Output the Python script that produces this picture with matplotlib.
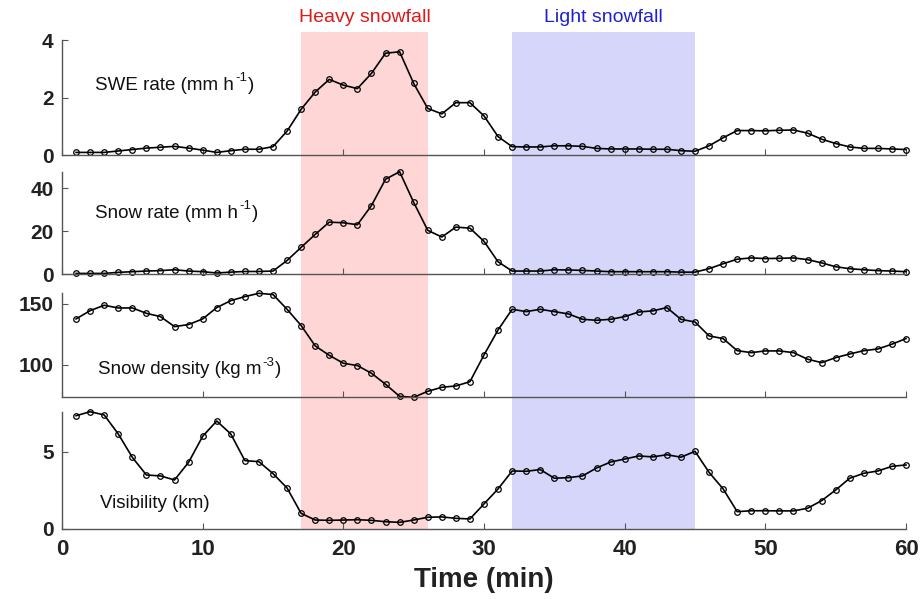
import matplotlib
matplotlib.use("Agg")
import matplotlib.pyplot as plt
import numpy as np

plt.rcParams['font.family'] = ['Liberation Sans', 'DejaVu Sans']

minutes = list(range(1, 61))

swe_rate = [0.09, 0.09, 0.09, 0.14, 0.19, 0.24, 0.27, 0.30, 0.24, 0.17,
            0.09, 0.15, 0.20, 0.20, 0.29, 0.83, 1.59, 2.19, 2.63, 2.43,
            2.31, 2.84, 3.54, 3.59, 2.49, 1.62, 1.43, 1.82, 1.82, 1.36,
            0.64, 0.29, 0.28, 0.28, 0.32, 0.32, 0.30, 0.23, 0.21, 0.21,
            0.21, 0.20, 0.20, 0.15, 0.13, 0.32, 0.60, 0.85, 0.85, 0.84,
            0.86, 0.87, 0.76, 0.55, 0.40, 0.28, 0.23, 0.23, 0.21, 0.19]

snow_rate = [0.5, 0.5, 0.5, 1.0, 1.3, 1.6, 1.8, 2.2, 1.6, 1.3,
             0.7, 1.1, 1.4, 1.4, 1.6, 6.5, 12.6, 18.6, 24.3, 24.0,
             23.1, 32.0, 44.2, 47.7, 33.5, 20.5, 17.4, 22.0, 21.5, 15.4,
             5.9, 1.6, 1.6, 1.6, 2.2, 2.1, 1.9, 1.6, 1.3, 1.3,
             1.3, 1.3, 1.3, 1.1, 1.1, 2.7, 5.0, 7.1, 7.7, 7.4,
             7.5, 7.7, 6.9, 5.4, 3.6, 2.7, 2.2, 1.8, 1.6, 1.3]

snow_density = [137.7, 144.5, 148.9, 146.7, 146.7, 142.3, 139.6, 131.4, 133.1, 137.7,
                147.0, 152.7, 156.0, 158.7, 157.7, 145.6, 132.3, 115.6, 107.9, 101.4,
                99.5, 93.2, 84.2, 74.3, 73.5, 78.4, 81.7, 82.8, 86.3, 108.2,
                128.7, 145.6, 143.7, 145.6, 143.7, 141.8, 137.4, 136.6, 137.4, 139.6,
                143.4, 144.3, 147.0, 137.4, 135.2, 123.8, 121.6, 111.7, 110.1, 111.5,
                111.5, 110.1, 104.7, 101.9, 106.0, 109.0, 111.7, 113.1, 117.0, 121.6]

visibility = [7.32, 7.58, 7.37, 6.14, 4.63, 3.49, 3.43, 3.17, 4.31, 5.99,
              6.98, 6.14, 4.42, 4.35, 3.58, 2.65, 1.01, 0.58, 0.56, 0.58,
              0.60, 0.56, 0.47, 0.43, 0.58, 0.76, 0.78, 0.69, 0.65, 1.62,
              2.59, 3.75, 3.73, 3.84, 3.28, 3.32, 3.43, 3.94, 4.33, 4.52,
              4.72, 4.66, 4.80, 4.64, 5.02, 3.66, 2.59, 1.12, 1.18, 1.18,
              1.17, 1.17, 1.34, 1.83, 2.52, 3.28, 3.60, 3.75, 4.05, 4.14]

heavy_period = (17, 26)
light_period = (32, 45)
x_ticks = [0, 10, 20, 30, 40, 50, 60]

# (text before superscript, superscript, closing text)
panel_labels = [("SWE rate (mm h", "-1", ")"),
                ("Snow rate (mm h", "-1", ")"),
                ("Snow density (kg m", "-3", ")"),
                ("Visibility (km)", "", "")]

W, H = 921, 599
fig = plt.figure(figsize=(W / 100, H / 100), dpi=100)

left = 62 / W
width = (906 - 62) / W

def fr(top_px, bot_px):
    return [left, 1 - bot_px / H, width, (bot_px - top_px) / H]

# background shading axes
bg = fig.add_axes(fr(32, 529))
bg.set_xlim(0, 60)
bg.set_ylim(0, 1)
bg.axvspan(*heavy_period, color='#FFD6D6', lw=0)
bg.axvspan(*light_period, color='#D6D6FA', lw=0)
bg.axis('off')

fig.text((62 + 14.07 * 21.5) / W, 1 - 17 / H, "Heavy snowfall", color='#E01818',
         fontsize=14, ha='center', va='center')
fig.text((62 + 14.07 * 38.5) / W, 1 - 17 / H, "Light snowfall", color='#2020D0',
         fontsize=14, ha='center', va='center')

panel_px = [(40, 155), (171.7, 274.5), (293.3, 397.3), (411.7, 529)]
series = [swe_rate, snow_rate, snow_density, visibility]
ylims = [(0, 4), (0, max(snow_rate)), (min(snow_density), max(snow_density)), (0, max(visibility))]
yticks = [[0, 2, 4], [0, 20, 40], [100, 150], [0, 5]]
label_pos = [(95, 85), (95, 213), (98, 370), (100, 503)]

fig.canvas.draw()
renderer = fig.canvas.get_renderer()

spine_col = '#555555'
for i in range(4):
    ax = fig.add_axes(fr(*panel_px[i]))
    ax.patch.set_alpha(0)
    ax.plot(minutes, series[i], '-', color='black', lw=1.2,
            marker='o', ms=4, mfc='none', mec='black', mew=0.9, clip_on=False)
    ax.set_xlim(0, 60)
    ax.set_ylim(*ylims[i])
    ax.set_yticks(yticks[i])
    ax.set_xticks(x_ticks)
    for s in ['top', 'right']:
        ax.spines[s].set_visible(False)
    for s in ['left', 'bottom']:
        ax.spines[s].set_color(spine_col)
        ax.spines[s].set_linewidth(1.0)
    ax.tick_params(direction='in', length=4, width=0.8, color=spine_col,
                   labelsize=15, pad=6)
    for t in ax.get_yticklabels():
        t.set_fontweight('bold')
        t.set_color('#222222')
    if i < 3:
        ax.tick_params(axis='x', labelbottom=False)
    else:
        ax.tick_params(axis='x', labelsize=16, pad=7)
        for t in ax.get_xticklabels():
            t.set_fontweight('bold')
            t.set_color('#222222')
        ax.set_xlabel("Time (min)", fontsize=20, fontweight='bold', color='#222222', labelpad=5)

    pre, sup, post = panel_labels[i]
    x0 = label_pos[i][0]
    yc = 1 - label_pos[i][1] / H
    t1 = fig.text(x0 / W, yc, pre, fontsize=13.5, ha='left', va='center', color='#111111')
    if sup:
        bb = t1.get_window_extent(renderer)
        t2 = fig.text((bb.x1 + 1) / W, yc + 7 / H, sup, fontsize=9.5, ha='left',
                      va='center', color='#111111')
        bb2 = t2.get_window_extent(renderer)
        fig.text((bb2.x1 + 1) / W, yc, post, fontsize=13.5, ha='left', va='center',
                 color='#111111')

fig.savefig("out.png", dpi=100)
